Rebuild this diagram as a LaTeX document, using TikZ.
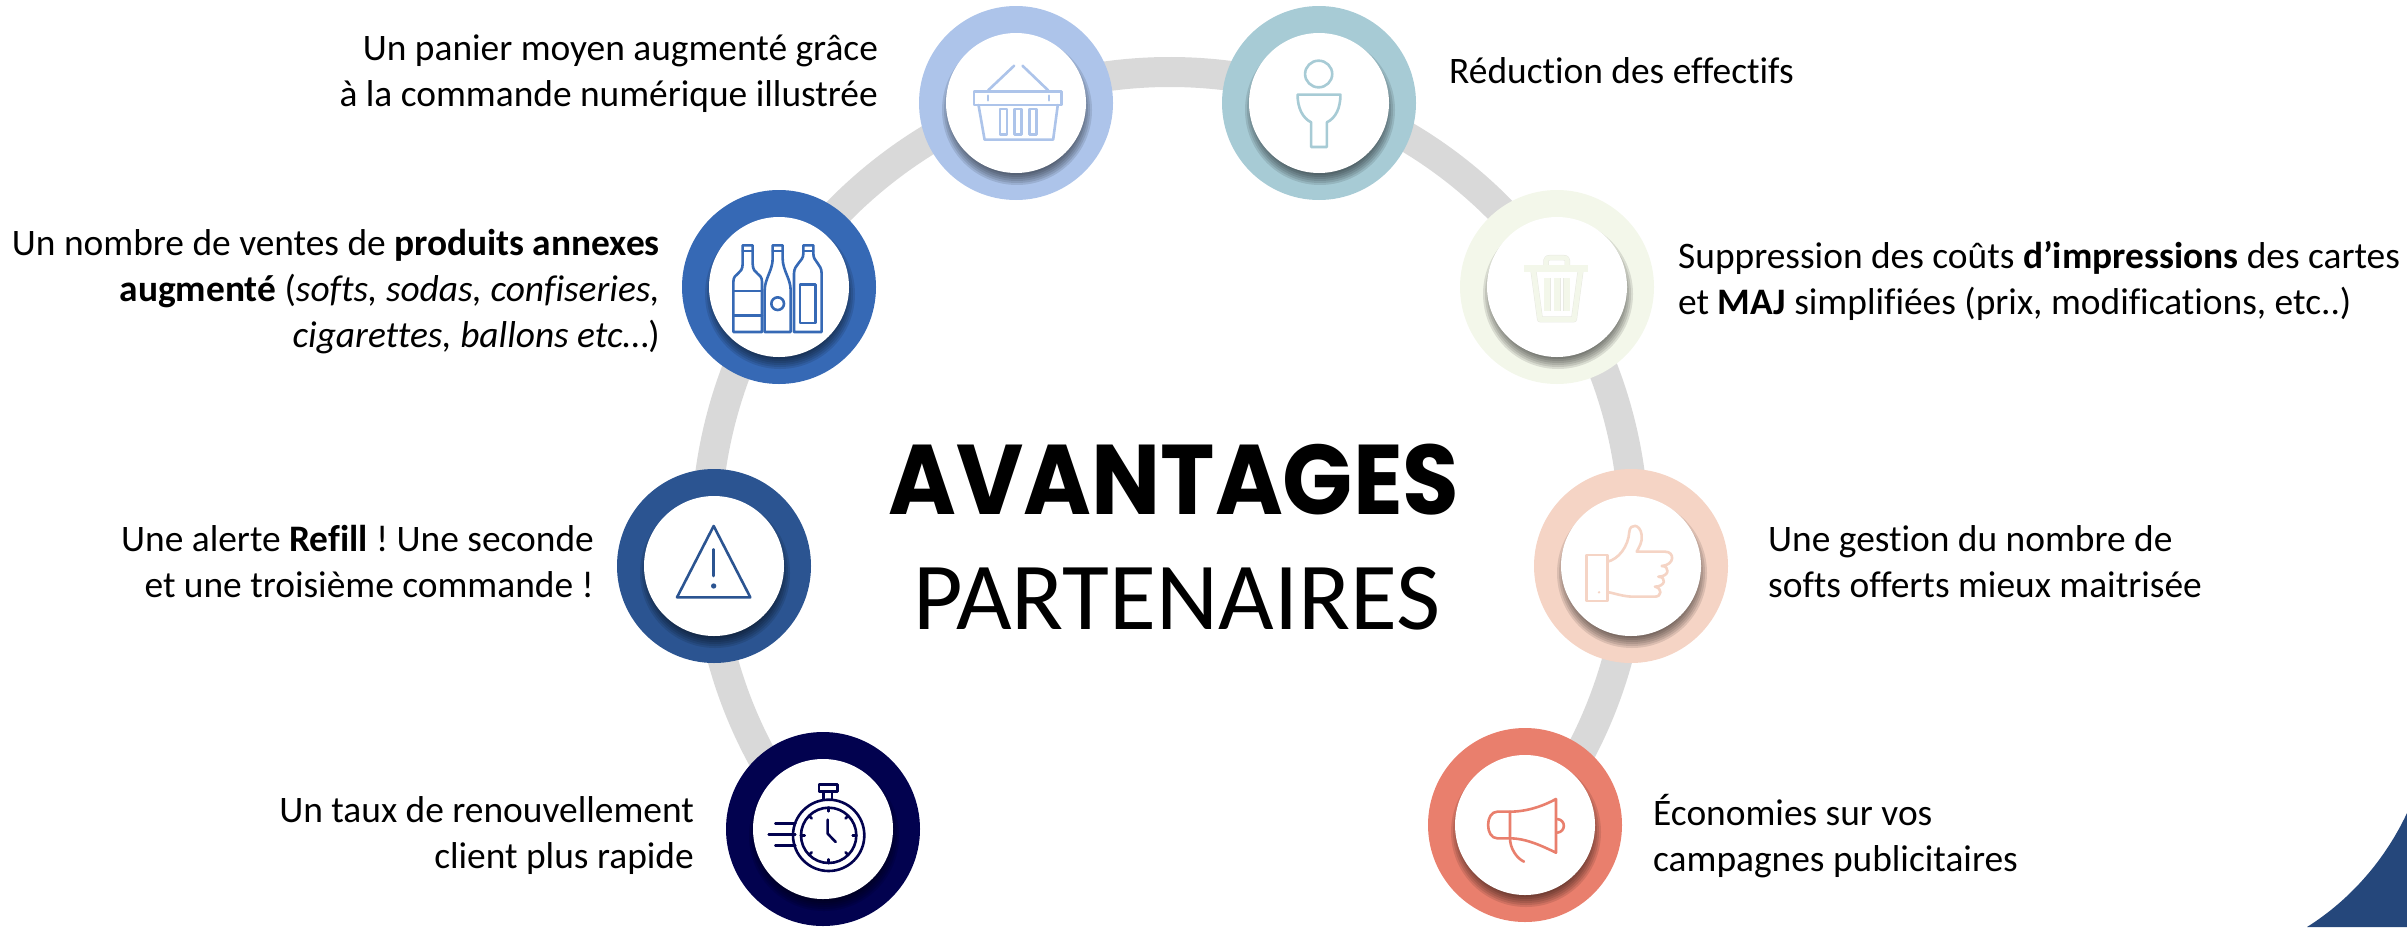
\documentclass[tikz,border=0pt]{standalone}
\usepackage{fontspec}
\setmainfont[Ligatures=NoCommon]{Carlito}
\newfontfamily\titlefont{Poppins}
\definecolor{cBasket}{HTML}{ADC4EA}
\definecolor{cTeal}{HTML}{A7CBD5}
\definecolor{cBottle}{HTML}{3669B5}
\definecolor{cAlert}{HTML}{2B5491}
\definecolor{cTimer}{HTML}{02024F}
\definecolor{cTrash}{HTML}{F3F7EA}
\definecolor{cThumb}{HTML}{F5D4C5}
\definecolor{cMega}{HTML}{E97F6D}
\definecolor{cCorner}{HTML}{25477B}
\definecolor{cRing}{HTML}{D9D9D9}
\definecolor{cTrashEdge}{HTML}{E8EAE2}
\tikzset{
  ringdisc/.style={circle,inner sep=0,minimum size=194pt,fill=#1,draw=none},
  innerdisc/.style={circle,inner sep=0,minimum size=140pt,fill=white,draw=none},
  ringline/.style={draw=cRing,line width=30pt,line cap=butt},
  label/.style={inner sep=0,font=\fontsize{37.4}{46}\selectfont\frenchspacing,text=black},
  labelR/.style={label,anchor=east,align=right},
  labelL/.style={label,anchor=west,align=left},
  iconline/.style={draw=#1,line width=2.6pt,line join=round,line cap=round},
  trashpart/.style={draw=cTrashEdge,line width=.5pt,double=cTrash,double distance=#1,line join=round},
  zoomthree/.style={x=0.3333pt,y=-0.3333pt},
  zoomwide/.style={x=0.3571pt,y=-0.3333pt},
}
\newcommand{\softshadow}[1]{%
  \foreach \rr in {63,65,...,75}{%
    \fill[black,fill opacity=.105] ([shift={(1pt,-7pt)}]#1.center) circle[radius=\rr pt];%
  }%
}
\begin{document}
\begin{tikzpicture}[x=1pt,y=-1pt]
\useasboundingbox (0,0) rectangle (2407,927);
% corner
\coordinate (cornerA) at (2307,927);
\coordinate (cornerB) at (2407,813);
\coordinate (cornerC) at (2407,927);
\fill[cCorner] (cornerA) .. controls (2350,900) and (2385,860) .. (cornerB) -- (cornerC) -- cycle;
% ring
\coordinate (ringc) at (1170,536);
\draw[ringline] ([shift={(-220:464)}]ringc) arc[start angle=-220,end angle=39,radius=464];
% discs
\node[ringdisc=cBasket] (basket) at (1016,103) {};
\node[ringdisc=cTeal] (teal) at (1319,103) {};
\node[ringdisc=cBottle] (bottle) at (779,287) {};
\node[ringdisc=cTrash] (trash) at (1557,287) {};
\node[ringdisc=cAlert] (alert) at (714,566) {};
\node[ringdisc=cThumb] (thumb) at (1631,566) {};
\node[ringdisc=cTimer] (timer) at (823,829) {};
\node[ringdisc=cMega] (mega) at (1525,825) {};
\foreach \n in {basket,teal,bottle,trash,alert,thumb,timer,mega}{%
  \softshadow{\n}
  \node[innerdisc] (\n In) at (\n) {};
}
% basket icon
\begin{scope}[shift={(basket.center)},zoomwide,shift={(-380,-310)},iconline=cBasket]
\draw (302,272) -- (375,198);
\draw (398,198) -- (470,272);
\draw (262,275) rectangle (508,316);
\draw (275,316) -- (292,420) -- (484,420) -- (497,316);
\draw (335,328) rectangle (355,405);
\draw (376,328) rectangle (396,405);
\draw (418,328) rectangle (438,405);
\draw (301,288) -- (301,302);
\draw (472,288) -- (472,302);
\end{scope}
% person icon
\begin{scope}[shift={(teal.center)},zoomwide,shift={(-1228,-310)},iconline=cTeal]
\draw (1227,223) circle[x radius=38,y radius=40];
\draw (1168,285) -- (1288,285) .. controls (1288,325) and (1275,355) .. (1250,368) -- (1250,442) -- (1206,442) -- (1206,368) .. controls (1182,355) and (1168,325) .. (1168,285);
\end{scope}
% bottles icon
\begin{scope}[shift={(bottle.center)},zoomthree,shift={(-417,-350)},iconline=cBottle]
\draw (280,485) -- (280,335) .. controls (280,305) and (308,315) .. (308,280) -- (308,225) -- (338,225) -- (338,280) .. controls (338,315) and (366,305) .. (366,335) -- (366,485) -- cycle;
\draw (308,242) -- (338,242);
\draw (280,362) -- (366,362);
\draw (280,435) -- (366,435);
\draw (374,485) -- (374,360) .. controls (374,325) and (398,300) .. (398,265) -- (398,225) -- (428,225) -- (428,265) .. controls (428,300) and (452,325) .. (452,360) -- (452,485) -- cycle;
\draw (398,242) -- (428,242);
\draw (413,400) circle[radius=19];
\draw (462,485) -- (462,310) .. controls (462,280) and (490,275) .. (490,250) -- (490,225) -- (520,225) -- (520,250) .. controls (520,275) and (545,280) .. (545,310) -- (545,485) -- cycle;
\draw (490,242) -- (520,242);
\draw (480,342) rectangle (527,458);
\end{scope}
% alert icon
\begin{scope}[shift={(alert.center)},zoomthree,shift={(-343,-348)},iconline=cAlert]
\draw (342,228) -- (452,442) -- (232,442) -- cycle;
\draw (342,298) -- (342,378);
\fill[cAlert] (342,408) circle[radius=8];
\end{scope}
% timer icon
\begin{scope}[shift={(timer.center)},zoomthree,shift={(-668,-1136)},iconline=cTimer]
\draw (685,1155) circle[radius=107];
\draw (685,1155) circle[radius=83];
\draw (656,1002) rectangle (712,1024);
\draw (670,1024) -- (670,1048);
\draw (695,1024) -- (695,1048);
\draw (682,1108) -- (682,1150) -- (706,1175);
\draw (525,1120) -- (585,1120);
\draw (505,1153) -- (585,1153);
\draw (525,1186) -- (585,1186);
\foreach \a in {0,45,...,315}{\draw ([shift={(\a:83)}]685,1155) -- ([shift={(\a:72)}]685,1155);}
\end{scope}
% trash icon
\begin{scope}[shift={(trash.center)},zoomthree,shift={(-141,-141)}]
\draw[trashpart=4.5pt] (108,78) -- (108,62) .. controls (108,54) and (114,53) .. (120,53) -- (160,53) .. controls (168,53) and (172,54) .. (172,62) -- (172,78);
\draw[trashpart=5pt] (70,90) -- (90,238) -- (192,238) -- (212,90);
\draw[trashpart=6.5pt] (42,85) -- (235,85);
\draw[trashpart=6pt] (111,115) -- (111,212);
\draw[trashpart=6pt] (141,115) -- (141,212);
\draw[trashpart=6pt] (170,115) -- (170,212);
\end{scope}
% thumb icon
\begin{scope}[shift={(thumb.center)},zoomthree,shift={(-333,-318)},iconline=cThumb]
\draw (200,285) rectangle (262,423);
\fill[cThumb] (237,397) circle[radius=4];
\draw (262,305) .. controls (295,298) and (325,260) .. (328,215) .. controls (330,190) and (360,190) .. (365,225) .. controls (368,245) and (358,260) .. (350,275) -- (435,275) .. controls (465,275) and (465,315) .. (425,318) .. controls (450,318) and (450,350) .. (415,350) .. controls (442,352) and (435,380) .. (405,380) .. controls (428,385) and (425,410) .. (405,410) -- (340,410) .. controls (310,410) and (285,400) .. (262,396);
\end{scope}
% megaphone icon
\begin{scope}[shift={(mega.center)},zoomthree,shift={(-345,-315)},iconline=cMega]
\draw (438,237) -- (438,398) .. controls (400,380) and (350,355) .. (300,355) -- (262,355) .. controls (225,355) and (225,275) .. (262,275) -- (300,275) .. controls (350,275) and (400,258) .. (438,237);
\draw (300,275) -- (300,355) .. controls (300,385) and (320,415) .. (342,425);
\draw (442,297) .. controls (468,300) and (468,335) .. (442,338);
\end{scope}
% labels
\node[labelR] (t1) at (878,74) {Un panier moyen augmenté grâce\\à la commande numérique illustrée};
\node[labelR] (t2) at (660,292) {Un nombre de ventes de \textbf{produits annexes}\\\textbf{augmenté} (\textit{softs, sodas, confiseries,}\\\textit{cigarettes, ballons etc}…)};
\node[labelR] (t3) at (594,562) {Une alerte \textbf{Refill} ! Une seconde\\et une troisième commande !};
\node[labelR] (t4) at (694,836) {Un taux de renouvellement\\client plus rapide};
\node[labelL] (t5) at (1449,71) {Réduction des effectifs};
\node[labelL] (t6) at (1678,281) {Suppression des coûts \textbf{d’impressions} des cartes\\et \textbf{MAJ} simplifiées (prix, modifications, etc..)};
\node[labelL] (t7) at (1768,562) {Une gestion du nombre de\\softs offerts mieux maitrisée};
\node[labelL] (t8) at (1653,836) {Économies sur vos\\campagnes publicitaires};
\node[inner sep=0,anchor=base,font=\fontsize{99}{99}\titlefont\bfseries] (title) at (1174,514) {\scalebox{.93}[1]{AVANTAGES}};
\node[inner sep=0,anchor=base,font=\fontsize{96}{96}\selectfont] (subtitle) at (1177,629) {PARTENAIRES};
\end{tikzpicture}
\end{document}
